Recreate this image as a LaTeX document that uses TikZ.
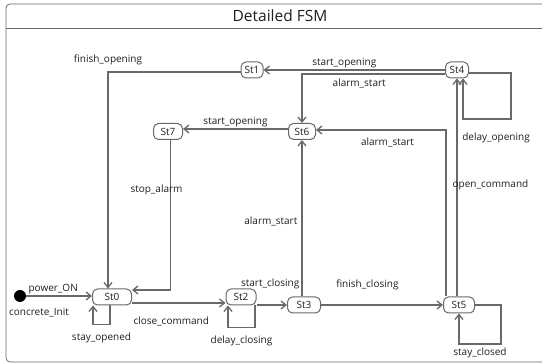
\documentclass[tikz,border=0pt]{standalone}
\usepackage{fontspec}
\setmainfont{Open Sans}
\usepackage{tikz}
\usetikzlibrary{arrows.meta, positioning}
\definecolor{linegray}{RGB}{105,105,105}
\definecolor{textgray}{RGB}{30,30,30}

\begin{document}
\begin{tikzpicture}[x=1pt, y=-1pt, font=\fontsize{10}{12}\selectfont, text=textgray]
    % Define styles
    \tikzstyle{fsmstate} = [rectangle, rounded corners=5pt, minimum height=16pt, inner sep=1pt, draw=linegray, line width=1pt, fill=white]
    \tikzstyle{arrow} = [draw=linegray, line width=1.3pt, -{Straight Barb[length=5pt,width=8pt]}]
    \tikzstyle{lbl} = [inner sep=1pt]

    \useasboundingbox (0,0) rectangle (542,363);
    \clip (0,0) rectangle (542,363);

    % Frame
    \draw [linegray, line width=0.8pt, rounded corners=4pt] (6,362) rectangle (580,4);
    \draw [linegray, line width=0.8pt] (6,28) -- (580,28);
    \node (title) at (280,16) {\fontsize{15.5}{18}\selectfont Detailed FSM};

    % Nodes
    \node (init) [circle, fill=black, inner sep=0pt, minimum size=12pt,
        label={[lbl, xshift=19pt, label distance=5pt]below:concrete\_Init}] at (20,296) {};
    \node (St0) [fsmstate, minimum width=39pt] at (112,297) {St0};
    \node (St2) [fsmstate, minimum width=30pt] at (241,297) {St2};
    \node (St3) [fsmstate, minimum width=33pt] at (304,305) {St3};
    \node (St5) [fsmstate, minimum width=31pt] at (459,305) {St5};
    \node (St6) [fsmstate, minimum width=27pt] at (302,131.5) {St6};
    \node (St7) [fsmstate, minimum width=29pt] at (168,131.5) {St7};
    \node (St1) [fsmstate, minimum width=22pt] at (252,70) {St1};
    \node (St4) [fsmstate, minimum width=23pt] at (457,70) {St4};

    % Arrows
    \draw [arrow] (init) -- node[lbl, above, pos=0.41] {power\_ON} (init -| St0.west);
    \draw [arrow] ([xshift=-2pt]St0.south) -- ++(0,19) -| node[lbl, below=7pt, pos=0.25] {stay\_opened} ([xshift=-19pt]St0.south);
    \draw [arrow] ([yshift=-6pt]St0.east) -- node[lbl, below=12pt, pos=0.42] {close\_command} ([yshift=-6pt]St2.west);
    \draw [arrow] ([xshift=14pt]St2.south) -- ++(0,22) -| node[lbl, below=7pt, pos=0.25] {delay\_closing} ([xshift=-13pt]St2.south);
    \draw [arrow] (St3.west -| St2.east) -- node[lbl, above=14pt, pos=0.45] {start\_closing} (St3.west);
    \draw [arrow] (St6.south |- St3.north) -- node[lbl, left=3pt, pos=0.48] {alarm\_start} (St6.south);
    \draw [arrow] (St3) -- node[lbl, above=13pt, pos=0.38] {finish\_closing} (St5);
    \draw [arrow] (St5.east) -| ++(26,39) -| node[lbl, below=2pt, pos=0.25] {stay\_closed} (St5.south);
    \draw [arrow] ([xshift=-13pt]St5.north) |- node[lbl, below=6pt, pos=0.725] {alarm\_start} ([yshift=1.5pt]St6.east);
    \draw [arrow] ([xshift=-2pt]St5.north) -- node[lbl, right=-6pt, pos=0.51] {open\_command} (St4.south);
    \draw [arrow] ([yshift=-3pt]St4.east) -| ++(42,46) -| node[lbl, below=12pt, pos=0.156] {delay\_opening} ([xshift=6pt]St4.south);
    \draw [arrow] (St4) -- node[lbl, above=0pt, pos=0.555] {start\_opening} (St1);
    \draw [arrow] ([yshift=-4pt]St4.west) -| node[lbl, below=3pt, pos=0.3] {alarm\_start} (St6.north);
    \draw [arrow] ([yshift=2.5pt]St6.west) -- node[lbl, above=0pt, pos=0.5] {start\_opening} ([yshift=2.5pt]St7.east);
    \draw [arrow] ([yshift=-2pt]St1.west) -| node[lbl, above=5pt, pos=0.5] {finish\_opening} ([xshift=-4pt]St0.north);
    \draw [arrow] ([xshift=2.5pt]St7.south) |- node[lbl, xshift=-14pt, pos=0.165] {stop\_alarm} ([yshift=7pt]St0.east);
\end{tikzpicture}
\end{document}
